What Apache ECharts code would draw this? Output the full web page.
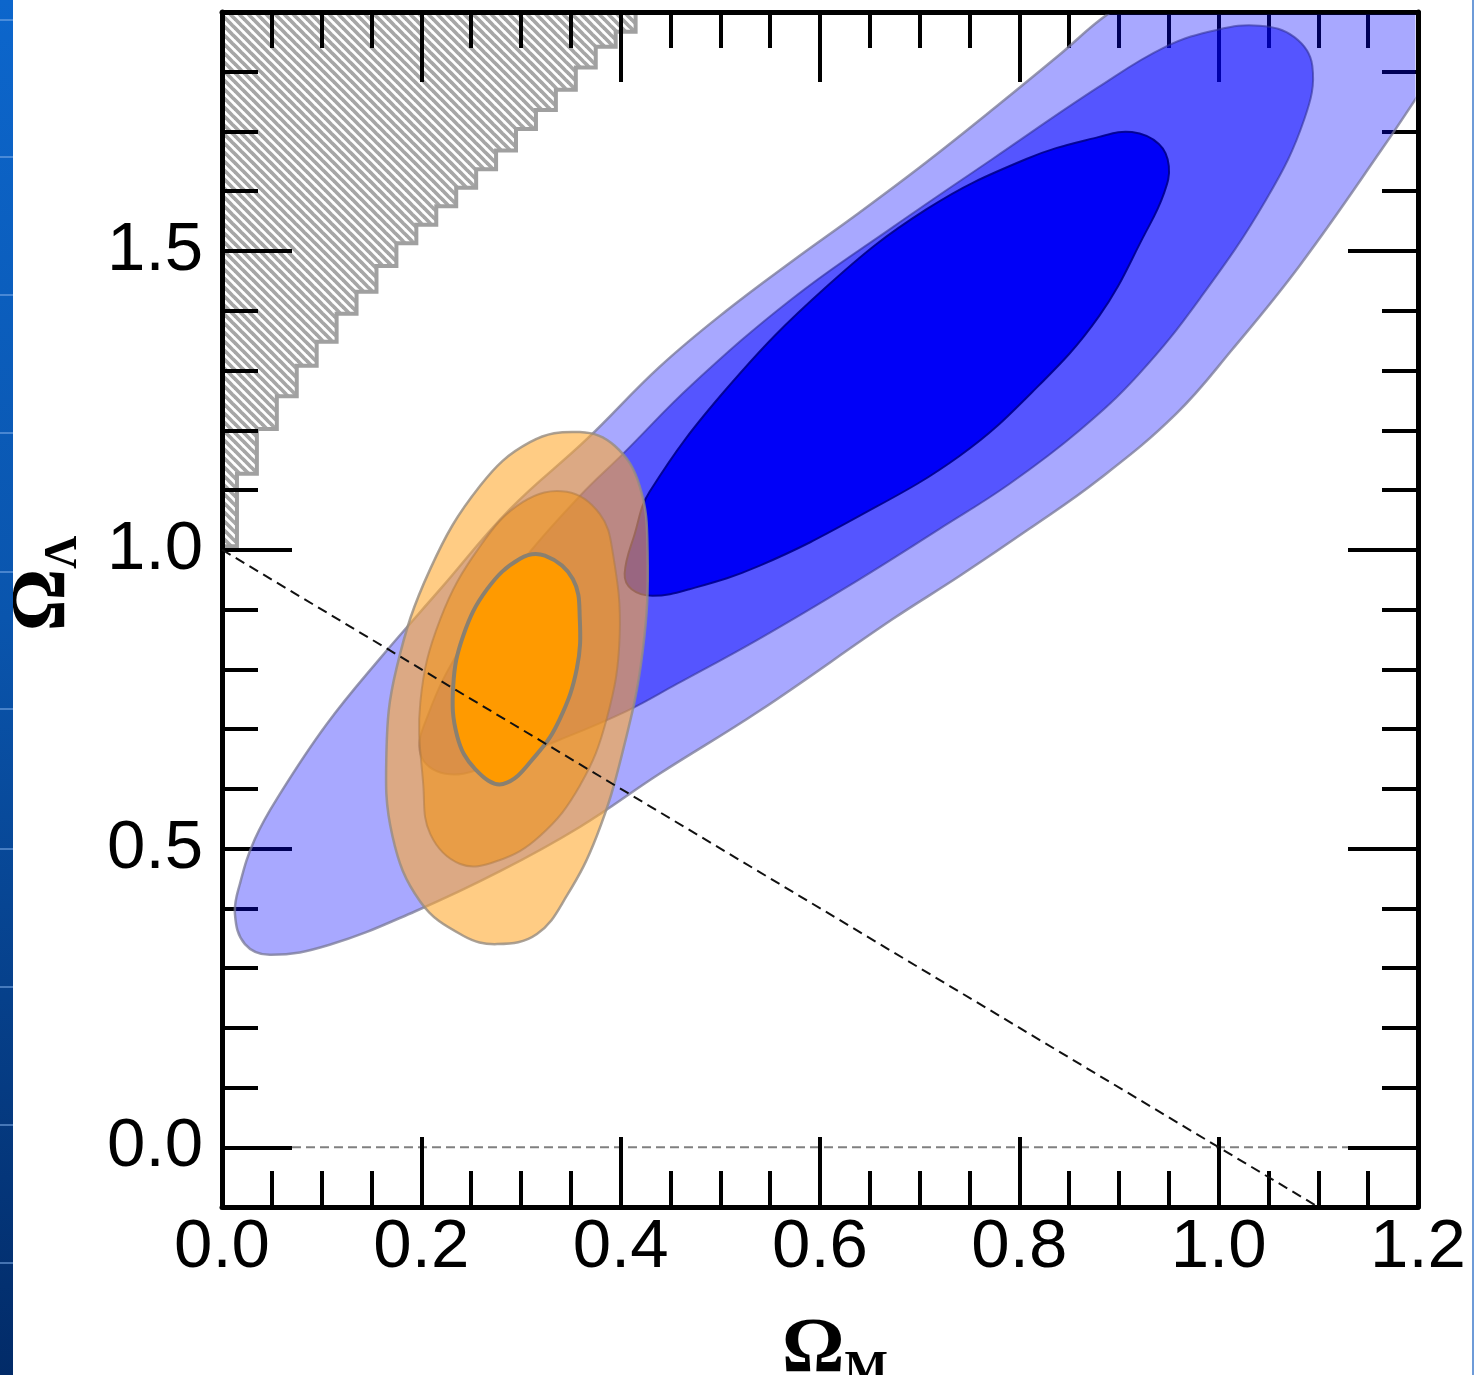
<!DOCTYPE html>
<html><head><meta charset="utf-8">
<script src="https://cdn.jsdelivr.net/npm/echarts@6/dist/echarts.min.js"></script>
<style>html,body{margin:0;padding:0;background:#fff}#c{width:1479px;height:1375px}</style>
</head><body><div id="c"></div>
<script>
// ---- tick values ----
const xRange = [0, 1.2];
const yRange = [-0.1, 1.9];
const yMajorTicks = [0, 0.5, 1.0, 1.5];
const yMinorTicks = [-0.1, 0.1, 0.2, 0.3, 0.4, 0.6, 0.7, 0.8, 0.9, 1.1, 1.2, 1.3, 1.4, 1.6, 1.7, 1.8, 1.9];

// ---- no-big-bang region (staircase): right edge of each step and its lower edge ----
const noBigBangStepX = [0.015,0.035,0.055,0.075,0.095,0.115,0.135,0.155,0.175,0.195,0.215,0.235,0.255,0.275,0.295,0.315,0.335,0.355,0.375,0.395,0.415];
const noBigBangStepY = [1.006,1.127,1.202,1.257,1.308,1.348,1.395,1.432,1.475,1.513,1.544,1.575,1.606,1.637,1.668,1.704,1.736,1.770,1.807,1.842,1.867];

// ---- SN (blue) confidence contours [Omega_M, Omega_Lambda] ----
const blueOuter = [[0.013,0.390],[0.018,0.441],[0.033,0.516],[0.058,0.591],[0.105,0.708],[0.158,0.817],[0.219,0.934],[0.289,1.068],[0.366,1.185],[0.439,1.306],[0.506,1.400],[0.572,1.483],[0.640,1.565],[0.707,1.649],[0.780,1.746],[0.840,1.828],[0.890,1.898],[0.950,1.955],[1.081,2.014],[1.221,1.997],[1.251,1.888],[1.211,1.788],[1.164,1.671],[1.081,1.475],[1.014,1.336],[0.957,1.227],[0.880,1.118],[0.810,1.035],[0.740,0.956],[0.673,0.884],[0.539,0.730],[0.439,0.625],[0.359,0.536],[0.279,0.462],[0.194,0.395],[0.108,0.339],[0.048,0.322],[0.023,0.340]];
const blueMid = [[0.199,0.658],[0.207,0.725],[0.239,0.834],[0.299,0.976],[0.359,1.090],[0.402,1.160],[0.472,1.277],[0.572,1.420],[0.673,1.540],[0.773,1.654],[0.880,1.775],[0.947,1.842],[0.998,1.870],[1.041,1.877],[1.076,1.858],[1.094,1.810],[1.086,1.721],[1.048,1.587],[0.981,1.420],[0.920,1.294],[0.860,1.199],[0.790,1.110],[0.720,1.035],[0.640,0.951],[0.539,0.851],[0.456,0.775],[0.406,0.730],[0.339,0.682],[0.269,0.638],[0.224,0.625]];
const blueInner = [[0.404,0.960],[0.414,1.026],[0.429,1.097],[0.506,1.269],[0.607,1.441],[0.707,1.570],[0.807,1.654],[0.880,1.691],[0.913,1.699],[0.940,1.679],[0.950,1.642],[0.945,1.596],[0.927,1.532],[0.880,1.391],[0.813,1.264],[0.740,1.157],[0.640,1.057],[0.539,0.973],[0.469,0.934],[0.432,0.923],[0.411,0.934]];

// ---- CMB+clusters (orange) confidence contours ----
const orangeOuter = [[0.359,1.197],[0.394,1.174],[0.419,1.107],[0.427,0.996],[0.422,0.829],[0.402,0.662],[0.376,0.521],[0.346,0.421],[0.316,0.357],[0.276,0.340],[0.242,0.354],[0.199,0.411],[0.171,0.521],[0.165,0.662],[0.175,0.801],[0.209,0.968],[0.259,1.107],[0.309,1.180]];
const orangeMid = [[0.346,1.097],[0.379,1.060],[0.392,0.996],[0.399,0.856],[0.386,0.717],[0.359,0.605],[0.319,0.521],[0.276,0.479],[0.239,0.474],[0.209,0.524],[0.202,0.605],[0.199,0.745],[0.219,0.884],[0.259,1.006],[0.302,1.080]];
const orangeInner = [[0.324,0.990],[0.352,0.951],[0.359,0.884],[0.356,0.801],[0.339,0.717],[0.316,0.658],[0.282,0.608],[0.254,0.633],[0.236,0.688],[0.232,0.772],[0.242,0.856],[0.266,0.934],[0.299,0.985]];

// ---- reference lines ----
const flatUniverse = [[0, 1], [1.1, -0.1]];
const zeroLambda = [[0, 0], [1.2, 0]];

// hatch pattern tile
const tile = document.createElement('canvas');
tile.width = 9; tile.height = 9;
(function(){
  const c = tile.getContext('2d');
  c.fillStyle = '#ffffff'; c.fillRect(0,0,9,9);
  c.strokeStyle = '#a6a6a6'; c.lineWidth = 3.7;
  for (let k = -1; k <= 1; k++) { c.beginPath(); c.moveTo(k*9-2,-2); c.lineTo(k*9+11,11); c.stroke(); }
})();

function clipOf(params){
  const cs = params.coordSys;
  return {type:'rect', shape:{x:cs.x+2.5, y:cs.y+2.5, width:cs.width-5, height:cs.height-5}};
}
function polySeries(name, pts, style, smooth, z){
  return {
    type:'custom', name, z: z==null?2:z, silent:true,
    data:[0],
    renderItem:function(params, api){
      return {type:'polygon', shape:{points: pts.map(p=>api.coord(p)), smooth: smooth},
              style: style, clipPath: clipOf(params)};
    }
  };
}

// staircase polygon from the step arrays
const hatchPts = [[-0.05, 2.0], [-0.05, noBigBangStepY[0]]];
for (let i = 0; i < noBigBangStepX.length; i++) {
  hatchPts.push([noBigBangStepX[i], noBigBangStepY[i]]);
  hatchPts.push([noBigBangStepX[i], i+1 < noBigBangStepY.length ? noBigBangStepY[i+1] : 2.0]);
}

const chart = echarts.init(document.getElementById('c'), null, {renderer:'canvas'});
const tickStyle = {color:'#000', width:4};
const labelFont = {fontFamily:'Liberation Sans, Arial, sans-serif', fontSize:69, color:'#000'};
const nameStyle = {
  fontFamily:'Liberation Serif, serif', fontWeight:'bold', color:'#000',
  rich:{
    o:{fontFamily:'Liberation Serif, serif', fontWeight:'bold', fontSize:78, lineHeight:78, verticalAlign:'top', color:'#000'},
    s:{fontFamily:'Liberation Serif, serif', fontWeight:'bold', fontSize:46, lineHeight:46, verticalAlign:'top', padding:[36,0,0,0], color:'#000'}
  }
};
const axisLineStyle = {show:true, onZero:false, lineStyle:{color:'#000', width:5}};

chart.setOption({
  animation:false,
  backgroundColor:'#ffffff',
  grid:{left:222, right:61, top:12, bottom:168, containLabel:false, outerBoundsMode:'none'},
  xAxis:[
    {type:'value', position:'bottom', min:xRange[0], max:xRange[1], interval:0.2,
     axisLine:axisLineStyle,
     axisTick:{show:true, inside:true, length:70, lineStyle:tickStyle},
     minorTick:{show:true, splitNumber:4, length:36, lineStyle:tickStyle},
     splitLine:{show:false}, minorSplitLine:{show:false},
     axisLabel:Object.assign({margin:6, formatter:v=>v.toFixed(1)}, labelFont),
     name:'{o|Ω}{s|M}', nameLocation:'middle', nameGap:105,
     nameTextStyle:Object.assign({padding:[0,0,0,30]}, nameStyle)},
    {type:'value', position:'top', min:xRange[0], max:xRange[1], interval:0.2,
     axisLine:axisLineStyle,
     axisTick:{show:true, inside:true, length:70, lineStyle:tickStyle},
     minorTick:{show:true, splitNumber:4, length:36, lineStyle:tickStyle},
     splitLine:{show:false}, axisLabel:{show:false}}
  ],
  yAxis:[
    {type:'value', position:'left', min:yRange[0], max:yRange[1],
     axisLine:axisLineStyle,
     axisTick:{show:true, inside:true, length:70, customValues:yMajorTicks, lineStyle:tickStyle},
     axisLabel:Object.assign({margin:19, customValues:yMajorTicks, formatter:v=>v.toFixed(1)}, labelFont),
     splitLine:{show:false},
     name:'{o|Ω}{s|Λ}', nameLocation:'middle', nameRotate:90, nameGap:139,
     nameTextStyle:Object.assign({padding:[0,0,0,52]}, nameStyle)},
    {type:'value', position:'left', min:yRange[0], max:yRange[1],
     axisLine:{show:false, onZero:false},
     axisTick:{show:true, inside:true, length:36, customValues:yMinorTicks, lineStyle:tickStyle},
     axisLabel:{show:false}, splitLine:{show:false}},
    {type:'value', position:'right', min:yRange[0], max:yRange[1],
     axisLine:axisLineStyle,
     axisTick:{show:true, inside:true, length:70, customValues:yMajorTicks, lineStyle:tickStyle},
     axisLabel:{show:false}, splitLine:{show:false}},
    {type:'value', position:'right', min:yRange[0], max:yRange[1],
     axisLine:{show:false, onZero:false},
     axisTick:{show:true, inside:true, length:36, customValues:yMinorTicks, lineStyle:tickStyle},
     axisLabel:{show:false}, splitLine:{show:false}}
  ],
  graphic:[
    {type:'rect', silent:true, z:10, shape:{x:0,y:0,width:13,height:1375},
     style:{fill:new echarts.graphic.LinearGradient(0,0,0,1,[{offset:0,color:'#0c66cc'},{offset:0.45,color:'#0a55ad'},{offset:1,color:'#022b68'}])}},
    ...[20,157,295,433,572,709,849,987,1125,1263].map(y=>({type:'line', silent:true, z:11,
      shape:{x1:0,y1:y,x2:13,y2:y}, style:{stroke:'rgba(130,175,235,0.7)', lineWidth:1.5}})),
    {type:'line', silent:true, z:10, shape:{x1:1473,y1:0,x2:1473,y2:1375}, style:{stroke:'#6e9bd8', lineWidth:2}}
  ],
  series:[
    polySeries('No Big Bang', hatchPts, {fill:{image:tile, repeat:'repeat'}, stroke:'#a0a0a0', lineWidth:4}, 0, -1),
    {type:'line', name:'zero', z:-1, data:zeroLambda, showSymbol:false, symbol:'none', silent:true,
     lineStyle:{color:'#808080', width:1.8, type:[9,5]}},
    polySeries('SN 99.7%', blueOuter, {fill:'rgba(0,0,255,0.34)', stroke:'rgba(120,120,150,0.75)', lineWidth:2.5}, 0.4),
    polySeries('SN 95%', blueMid, {fill:'rgba(0,0,255,0.49)', stroke:'rgba(50,50,150,0.6)', lineWidth:2}, 0.4),
    polySeries('SN 68%', blueInner, {fill:'rgba(0,0,248,1)', stroke:'rgba(0,0,140,0.9)', lineWidth:2}, 0.4),
    {type:'line', name:'flat', data:flatUniverse, showSymbol:false, symbol:'none', silent:true,
     lineStyle:{color:'#111', width:2, type:[10,6]}},
    polySeries('CMB 99.7%', orangeOuter, {fill:'rgba(255,170,50,0.6)', stroke:'rgba(150,140,130,0.8)', lineWidth:2.5}, 0.4),
    polySeries('CMB 95%', orangeMid, {fill:'rgba(240,150,30,0.6)', stroke:'rgba(170,120,70,0.5)', lineWidth:2}, 0.4),
    polySeries('CMB 68%', orangeInner, {fill:'#ff9a00', stroke:'#8a8070', lineWidth:4}, 0.4)
  ]
});
</script>
</body></html>
